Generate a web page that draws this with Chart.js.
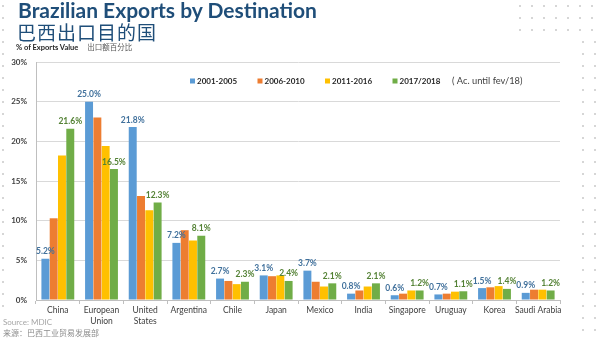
<!DOCTYPE html>
<html>
<head>
<meta charset="utf-8">
<script src="https://cdn.jsdelivr.net/npm/chart.js@4/dist/chart.umd.min.js"></script>
<style>
    html, body {
        margin: 0;
        padding: 0;
        background: #ffffff;
    }
    #page {
        position: relative;
        width: 600px;
        height: 338px;
        overflow: hidden;
        font-family: Lato, "Open Sans", sans-serif;
    }
    #chartBox {
        position: absolute;
        left: 0;
        top: 0;
        width: 600px;
        height: 338px;
    }
    .title {
        position: absolute;
        left: 18px;
        top: -3px;
        font-size: 21px;
        font-weight: bold;
        color: #1f4e79;
        white-space: nowrap;
    }
    .titleCn {
        position: absolute;
        left: 17px;
        top: 18px;
        font-family: "Noto Sans CJK SC", sans-serif;
        font-size: 19px;
        letter-spacing: 1px;
        color: #1f4e79;
        white-space: nowrap;
    }
    .unit {
        position: absolute;
        left: 16px;
        top: 41px;
        font-size: 7.5px;
        font-weight: bold;
        color: #262626;
        white-space: nowrap;
    }
    .unit span {
        margin-left: 9px;
        font-family: "Noto Sans CJK SC", serif;
        font-weight: normal;
        color: #595959;
    }
    .source {
        position: absolute;
        left: 3px;
        top: 317px;
        font-size: 8px;
        color: #a6a6a6;
        white-space: nowrap;
    }
    .sourceCn {
        position: absolute;
        left: 3px;
        top: 327px;
        font-family: "Noto Sans CJK SC", serif;
        font-size: 8px;
        color: #8c8c8c;
        white-space: nowrap;
    }
    .dots {
        position: absolute;
        background-image: radial-gradient(circle, #d6d6d6 0.8px, transparent 1.2px);
        background-size: 12px 12px;
    }
</style>
</head>
<body>
<div id="page">
    <div class="dots" style="left:-3px; top:0px; width:12px; height:310px;"></div>
    <div class="dots" style="left:514px; top:0px; width:86px; height:36px;"></div>
    <div class="dots" style="left:577px; top:36px; width:24px; height:302px;"></div>
    <div id="chartBox"><canvas id="exportsChart"></canvas></div>
    <div class="title">Brazilian Exports by Destination</div>
    <div class="titleCn">巴西出口目的国</div>
    <div class="unit">% of Exports Value<span>出口额百分比</span></div>
    <div class="source">Source: MDIC</div>
    <div class="sourceCn">来源：巴西工业贸易发展部</div>
</div>
<script>
const categories = [
    "China",
    ["European", "Union"],
    ["United", "States"],
    "Argentina",
    "Chile",
    "Japan",
    "Mexico",
    "India",
    "Singapore",
    "Uruguay",
    "Korea",
    "Saudi Arabia",
];

const periods = ["2001-2005", "2006-2010", "2011-2016", "2017/2018"];

const share2001 = [5.2, 25.0, 21.8, 7.2, 2.7, 3.1, 3.7, 0.8, 0.6, 0.7, 1.5, 0.9];
const share2006 = [10.3, 23.0, 13.1, 8.8, 2.4, 3.0, 2.3, 1.2, 0.8, 0.8, 1.6, 1.3];
const share2011 = [18.2, 19.4, 11.3, 7.5, 2.0, 3.1, 1.7, 1.7, 1.2, 1.05, 1.75, 1.3];
const share2017 = [21.6, 16.5, 12.3, 8.1, 2.3, 2.4, 2.1, 2.1, 1.2, 1.1, 1.4, 1.2];

const legendNote = "( Ac. until fev/18)";

const barColors = ["#5b9bd5", "#ed7d31", "#ffc000", "#70ad47"];
const labelColors = ["#41719c", null, null, "#548235"];

// values printed above the first and last period only
const barLabels = {
    id: "barLabels",
    afterDatasetsDraw(chart) {
        const ctx = chart.ctx;
        ctx.save();
        ctx.font = "bold 8.5px Lato, 'Open Sans', sans-serif";
        ctx.textAlign = "center";
        ctx.textBaseline = "bottom";
        chart.data.datasets.forEach((dataset, i) => {
            if (!labelColors[i]) {
                return;
            }
            ctx.fillStyle = labelColors[i];
            chart.getDatasetMeta(i).data.forEach((bar, j) => {
                ctx.fillText(dataset.data[j].toFixed(1) + "%", bar.x, bar.y - 3);
            });
        });
        ctx.restore();
    },
};

// legend row sitting inside the plot, with the note at its end
const insideLegend = {
    id: "insideLegend",
    afterDraw(chart) {
        const ctx = chart.ctx;
        const y = 81;
        const startX = 190;
        const step = 67.5;
        ctx.save();
        ctx.textBaseline = "middle";
        ctx.textAlign = "left";
        chart.data.datasets.forEach((dataset, i) => {
            const x = startX + i * step;
            ctx.fillStyle = dataset.backgroundColor;
            ctx.fillRect(x, y - 2.5, 5, 5);
            ctx.fillStyle = "#262626";
            ctx.font = "bold 8px Lato, 'Open Sans', sans-serif";
            ctx.fillText(dataset.label, x + 7, y);
        });
        ctx.fillStyle = "#404040";
        ctx.font = "9.3px Lato, 'Open Sans', sans-serif";
        ctx.fillText(legendNote, 452, y);
        ctx.restore();
    },
};

const seriesValues = [share2001, share2006, share2011, share2017];

new Chart(document.getElementById("exportsChart"), {
    type: "bar",
    data: {
        labels: categories,
        datasets: periods.map((period, i) => ({
            label: period,
            data: seriesValues[i],
            backgroundColor: barColors[i],
            borderWidth: 0,
            barPercentage: 0.96,
            categoryPercentage: 0.76,
        })),
    },
    options: {
        responsive: true,
        maintainAspectRatio: false,
        animation: false,
        layout: {
            padding: { top: 62, right: 40, bottom: 0, left: 0 },
        },
        plugins: {
            legend: { display: false },
            tooltip: { enabled: false },
        },
        scales: {
            x: {
                afterFit(axis) {
                    axis.height = 38;
                },
                grid: {
                    drawOnChartArea: false,
                    tickLength: 4,
                    color: "#bfbfbf",
                },
                border: { color: "#bfbfbf" },
                ticks: {
                    padding: 1,
                    maxRotation: 0,
                    autoSkip: false,
                    color: "#404040",
                    font: { family: "Lato, 'Open Sans', sans-serif", size: 8.5, lineHeight: 1.3 },
                },
            },
            y: {
                min: 0,
                max: 30,
                afterFit(axis) {
                    axis.width = 36;
                },
                grid: {
                    color: "#d9d9d9",
                    drawTicks: false,
                },
                border: { color: "#bfbfbf" },
                ticks: {
                    stepSize: 5,
                    padding: 9,
                    color: "#404040",
                    font: { family: "Lato, 'Open Sans', sans-serif", size: 8, weight: "bold" },
                    callback: (value) => value + "%",
                },
            },
        },
    },
    plugins: [barLabels, insideLegend],
});
</script>
</body>
</html>
